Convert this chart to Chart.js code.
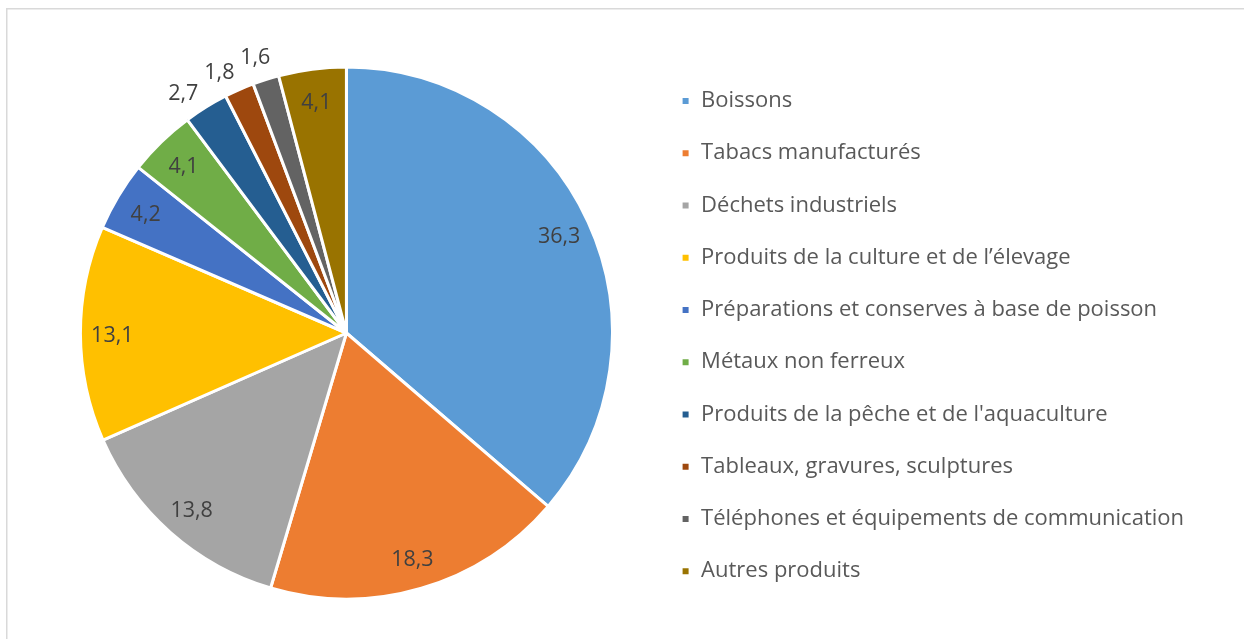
<!DOCTYPE html>
<html>
<head>
<meta charset="utf-8">
<script src="https://cdn.jsdelivr.net/npm/chart.js@4/dist/chart.umd.min.js"></script>
<style>
html,body{margin:0;padding:0;background:#fff;}
#wrap{width:1244px;height:639px;}
</style>
</head>
<body>
<div id="wrap"><canvas id="c" width="1244" height="639"></canvas></div>
<script>
const categories = [
  "Boissons",
  "Tabacs manufacturés",
  "Déchets industriels",
  "Produits de la culture et de l’élevage",
  "Préparations et conserves à base de poisson",
  "Métaux non ferreux",
  "Produits de la pêche et de l'aquaculture",
  "Tableaux, gravures, sculptures",
  "Téléphones et équipements de communication",
  "Autres produits"
];
const shares = [36.3, 18.3, 13.8, 13.1, 4.2, 4.1, 2.7, 1.8, 1.6, 4.1];
const valueLabels = ["36,3","18,3","13,8","13,1","4,2","4,1","2,7","1,8","1,6","4,1"];
const colors = ["#5B9BD5","#ED7D31","#A5A5A5","#FFC000","#4472C4","#70AD47","#255E91","#9E480E","#636363","#997300"];

const FONT = "'Open Sans', 'Noto Sans', sans-serif";

const frame = {
  id: 'frame',
  beforeDraw(chart){
    const ctx = chart.ctx;
    ctx.save();
    ctx.fillStyle = '#fff';
    ctx.fillRect(0,0,chart.width,chart.height);
    ctx.strokeStyle = '#D9D9D9';
    ctx.lineWidth = 1.5;
    ctx.strokeRect(6.75, 8.75, 3000, 3000);
    ctx.restore();
  }
};

// data labels: inside slices, small slices (< 3 %) placed outside
const sliceLabels = {
  id: 'sliceLabels',
  afterDatasetsDraw(chart, args, opts){
    const ctx = chart.ctx;
    const meta = chart.getDatasetMeta(0);
    ctx.save();
    ctx.font = "21.5px " + FONT;
    ctx.fillStyle = '#404040';
    ctx.textAlign = 'center';
    ctx.textBaseline = 'middle';
    meta.data.forEach((arc, i) => {
      const p = arc.getProps(['x','y','startAngle','endAngle','outerRadius'], true);
      const outside = shares[i] < opts.outsideBelow;
      const nudge = (opts.nudge[i] || 0) * Math.PI / 180;
      const mid = (p.startAngle + p.endAngle) / 2 + nudge;
      const r = p.outerRadius * (outside ? opts.outerFactor : opts.innerFactor);
      ctx.fillText(valueLabels[i], p.x + Math.cos(mid) * r, p.y + Math.sin(mid) * r + opts.dy);
    });
    ctx.restore();
  }
};

new Chart(document.getElementById('c'), {
  type: 'pie',
  data: {
    labels: categories,
    datasets: [{
      data: shares,
      backgroundColor: colors,
      borderColor: '#ffffff',
      borderWidth: 3,
      radius: 266
    }]
  },
  options: {
    responsive: false,
    animation: false,
    devicePixelRatio: 1,
    layout: { padding: { left: 42, right: 50, top: 27, bottom: 0 } },
    plugins: {
      tooltip: { enabled: false },
      sliceLabels: { outsideBelow: 3, innerFactor: 0.88, outerFactor: 1.095, dy: 2, nudge: {6: -2.2, 7: -2.1, 8: -0.6} },
      legend: {
        position: 'right',
        align: 'center',
        title: { display: true, text: '', font: { size: 1, lineHeight: 1 }, padding: { top: 5, bottom: 0 } },
        labels: {
          boxWidth: 9,
          boxHeight: 9,
          padding: 30.25,
          color: '#595959',
          font: { family: FONT, size: 22 }
        }
      }
    }
  },
  plugins: [frame, sliceLabels]
});
</script>
</body>
</html>
